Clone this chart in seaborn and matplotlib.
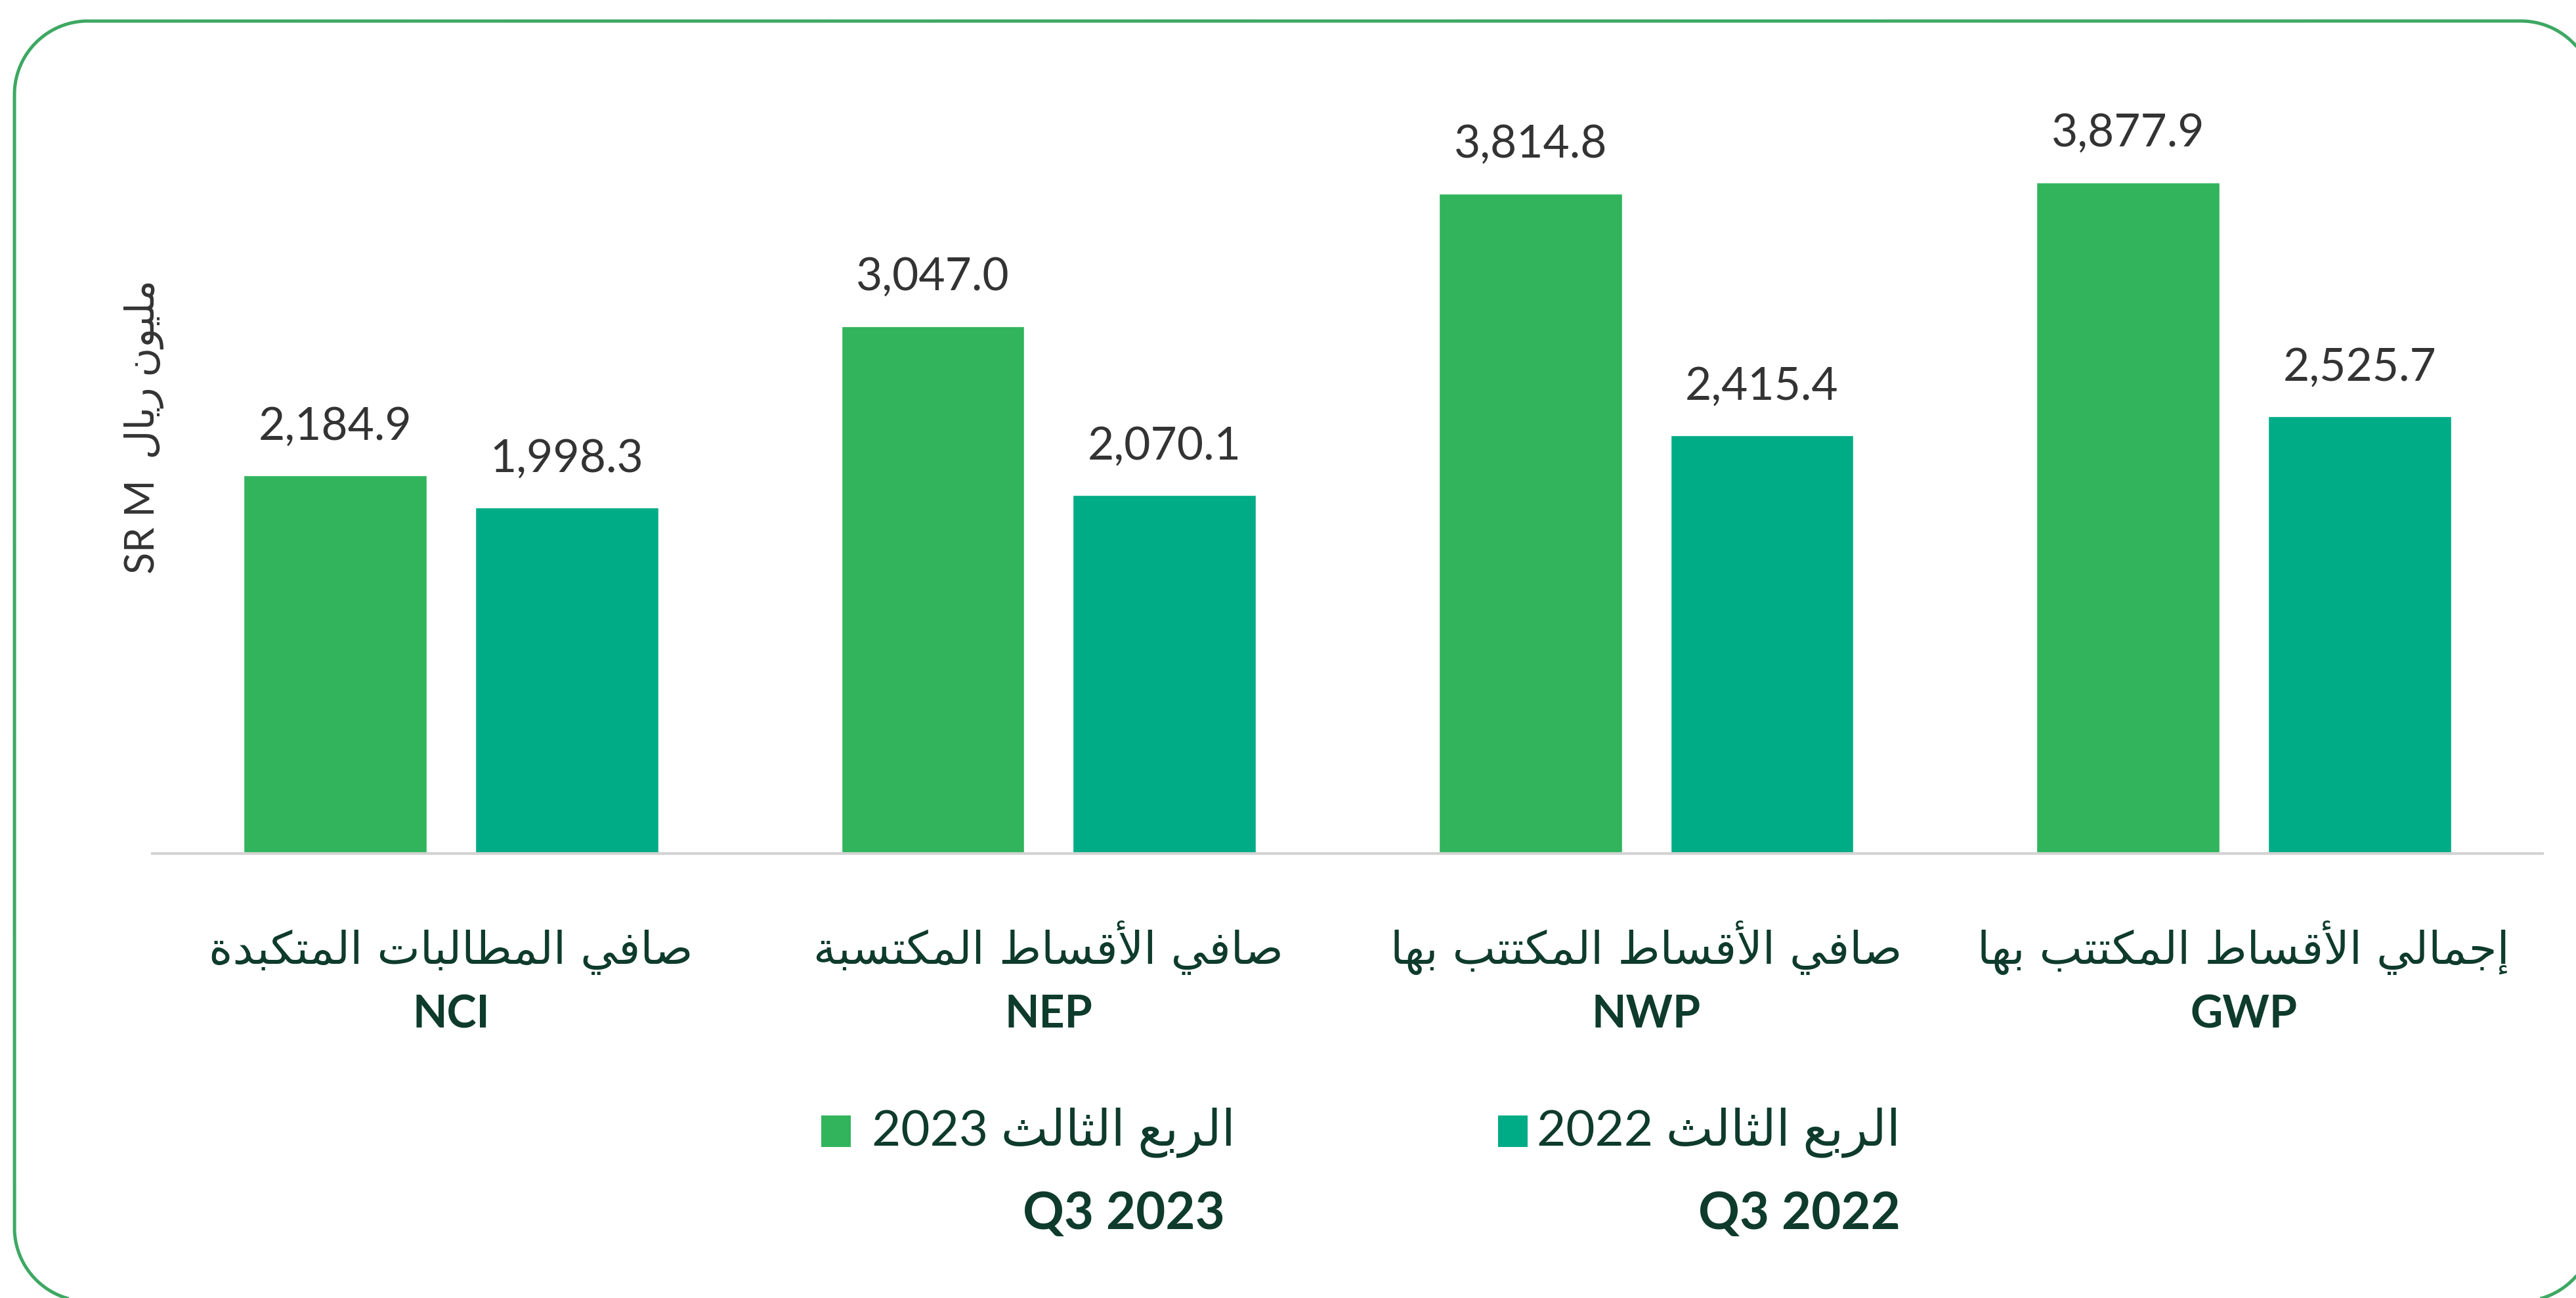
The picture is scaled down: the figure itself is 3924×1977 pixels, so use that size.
import numpy as np
import pandas as pd
import matplotlib
matplotlib.use("Agg")
import matplotlib.pyplot as plt
import seaborn as sns
from matplotlib.patches import PathPatch, Rectangle
from matplotlib.path import Path
from matplotlib.transforms import blended_transform_factory

# ---------------- data ----------------
metrics = ["NCI", "NEP", "NWP", "GWP"]
metric_ar = ["صافي المطالبات المتكبدة", "صافي الأقساط المكتسبة",
             "صافي الأقساط المكتتب بها", "إجمالي الأقساط المكتتب بها"]
q3_2023 = [2184.9, 3047.0, 3814.8, 3877.9]
q3_2022 = [1998.3, 2070.1, 2415.4, 2525.7]
periods = ["Q3 2023", "Q3 2022"]
period_ar = ["الربع الثالث", "الربع الثالث"]
period_year = ["2023", "2022"]
ylabel_ar = "مليون ريال"
ylabel_en = "SR M"

# ---------------- minimal Arabic shaping (presentation forms + RTL) ----------------
FORMS = {
    '\u0627': ('\uFE8D', '\uFE8E', None, None),
    '\u0623': ('\uFE83', '\uFE84', None, None),
    '\u0625': ('\uFE87', '\uFE88', None, None),
    '\u0628': ('\uFE8F', '\uFE90', '\uFE91', '\uFE92'),
    '\u0629': ('\uFE93', '\uFE94', None, None),
    '\u062A': ('\uFE95', '\uFE96', '\uFE97', '\uFE98'),
    '\u062B': ('\uFE99', '\uFE9A', '\uFE9B', '\uFE9C'),
    '\u062C': ('\uFE9D', '\uFE9E', '\uFE9F', '\uFEA0'),
    '\u062F': ('\uFEA9', '\uFEAA', None, None),
    '\u0631': ('\uFEAD', '\uFEAE', None, None),
    '\u0633': ('\uFEB1', '\uFEB2', '\uFEB3', '\uFEB4'),
    '\u0635': ('\uFEB9', '\uFEBA', '\uFEBB', '\uFEBC'),
    '\u0637': ('\uFEC1', '\uFEC2', '\uFEC3', '\uFEC4'),
    '\u0639': ('\uFEC9', '\uFECA', '\uFECB', '\uFECC'),
    '\u0641': ('\uFED1', '\uFED2', '\uFED3', '\uFED4'),
    '\u0642': ('\uFED5', '\uFED6', '\uFED7', '\uFED8'),
    '\u0643': ('\uFED9', '\uFEDA', '\uFEDB', '\uFEDC'),
    '\u0644': ('\uFEDD', '\uFEDE', '\uFEDF', '\uFEE0'),
    '\u0645': ('\uFEE1', '\uFEE2', '\uFEE3', '\uFEE4'),
    '\u0646': ('\uFEE5', '\uFEE6', '\uFEE7', '\uFEE8'),
    '\u0647': ('\uFEE9', '\uFEEA', '\uFEEB', '\uFEEC'),
    '\u0648': ('\uFEED', '\uFEEE', None, None),
    '\u064A': ('\uFEF1', '\uFEF2', '\uFEF3', '\uFEF4'),
}
LAM_ALEF = {'\u0627': ('\uFEFB', '\uFEFC'), '\u0623': ('\uFEF7', '\uFEF8'),
            '\u0625': ('\uFEF9', '\uFEFA')}


def rtl(s):
    out = []
    i, n = 0, len(s)
    prev_joins = False
    while i < n:
        c = s[i]
        if c not in FORMS:
            out.append(c)
            prev_joins = False
            i += 1
            continue
        if c == '\u0644' and i + 1 < n and s[i + 1] in LAM_ALEF:
            out.append(LAM_ALEF[s[i + 1]][1 if prev_joins else 0])
            prev_joins = False
            i += 2
            continue
        iso, fin, ini, med = FORMS[c]
        nxt = s[i + 1] if i + 1 < n else None
        jn = ini is not None and nxt in FORMS
        if prev_joins and jn:
            out.append(med)
        elif prev_joins:
            out.append(fin)
        elif jn:
            out.append(ini)
        else:
            out.append(iso)
        prev_joins = jn
        i += 1
    return ''.join(reversed(out))


def rounded_rect_path(x0, y0, x1, y1, r, n=40):
    """Closed rounded-rectangle outline (pixel units, y up)."""
    pts = []
    corners = [((x1 - r, y1 - r), 0, 90), ((x0 + r, y1 - r), 90, 180),
               ((x0 + r, y0 + r), 180, 270), ((x1 - r, y0 + r), 270, 360)]
    for (cx, cy), a0, a1 in corners:
        t = np.deg2rad(np.linspace(a0, a1, n))
        pts.extend(zip(cx + r * np.cos(t), cy + r * np.sin(t)))
    pts.append(pts[0])
    return Path(np.array(pts))


# ---------------- style ----------------
sns.set_theme(style="white")
plt.rcParams['font.family'] = ['Lato', 'DejaVu Sans']

C23 = "#31B45C"
C22 = "#00AC86"
DARK = "#0E3B2C"
GREY = "#333333"
BORDER = "#3DA862"

W, H, DPI = 3924, 1977, 100
fig = plt.figure(figsize=(W / DPI, H / DPI), dpi=DPI)
fig.patch.set_facecolor("white")
fig.patch.set_edgecolor("white")
fig.patch.set_linewidth(0)

ax_left, ax_right = 232 / W, 3873 / W
ax_bottom, ax_top = 1 - 1300 / H, 1 - 114 / H
ax = fig.add_axes([ax_left, ax_bottom, ax_right - ax_left, ax_top - ax_bottom])

df = pd.DataFrame({
    "metric": metrics * 2,
    "value": q3_2023 + q3_2022,
    "period": [periods[0]] * 4 + [periods[1]] * 4,
})
sns.barplot(data=df, x="metric", y="value", hue="period", order=metrics,
            hue_order=periods, palette=[C23, C22], saturation=1,
            width=0.775, gap=0.21, legend=False, ax=ax, errorbar=None)

ax.set_xlim(-0.5, 3.5)
ax.set_ylim(0, 4500)
for s in ["top", "right", "left"]:
    ax.spines[s].set_visible(False)
ax.spines["bottom"].set_color("#D3D3D3")
ax.spines["bottom"].set_linewidth(3)
ax.set_xticks([])
ax.set_yticks([])
ax.set_xlabel("")
ax.set_ylabel("")

for cont in ax.containers:
    vals = [b.get_height() for b in cont]
    ax.bar_label(cont, labels=[f"{v:,.1f}" for v in vals], padding=31,
                 fontsize=50, color=GREY, family=['Lato', 'DejaVu Sans'])

# category labels
tr = blended_transform_factory(ax.transData, fig.transFigure)
for i, (en, ar) in enumerate(zip(metrics, metric_ar)):
    ax.text(i, 1 - 1468 / H, rtl(ar), transform=tr, ha="center", va="baseline",
            fontsize=50, color=DARK, family=['DejaVu Sans'])
    ax.text(i, 1 - 1565 / H, en, transform=tr, ha="center", va="baseline",
            fontsize=49, color=DARK, fontweight="bold", family=['Lato', 'DejaVu Sans'])

# y label
fig.text(220 / W, 1 - 650 / H, ylabel_en + "  " + rtl(ylabel_ar), rotation=90,
         ha="center", va="center", fontsize=44, color=GREY,
         family=['Lato', 'DejaVu Sans'])

# legend (manual)
leg_right = [1882, 2895]
q3_right = [1866, 2895]
sq_left = [1251, 2282]
for k in range(2):
    fig.add_artist(Rectangle((sq_left[k] / DPI, (H - 1747) / DPI), 0.45, 0.48,
                             transform=fig.dpi_scale_trans,
                             facecolor=[C23, C22][k], edgecolor="none"))
    fig.text(leg_right[k] / W, 1 - 1744 / H, period_year[k] + " " + rtl(period_ar[k]),
             ha="right", va="baseline", fontsize=55, color=DARK,
             family=['Lato', 'DejaVu Sans'])
    fig.text(q3_right[k] / W, 1 - 1872 / H, periods[k], ha="right", va="baseline",
             fontsize=56, color=DARK, fontweight="bold", family=['Lato', 'DejaVu Sans'])

# rounded frame (in inches, y up); right edge and bottom run past the canvas
frame = rounded_rect_path(22 / DPI, (H - 1982) / DPI, 3952 / DPI, (H - 32) / DPI, 1.12)
fig.add_artist(PathPatch(frame, transform=fig.dpi_scale_trans, facecolor="none",
                         edgecolor=BORDER, linewidth=3.6))

fig.savefig("out.png", dpi=DPI, facecolor="white")
